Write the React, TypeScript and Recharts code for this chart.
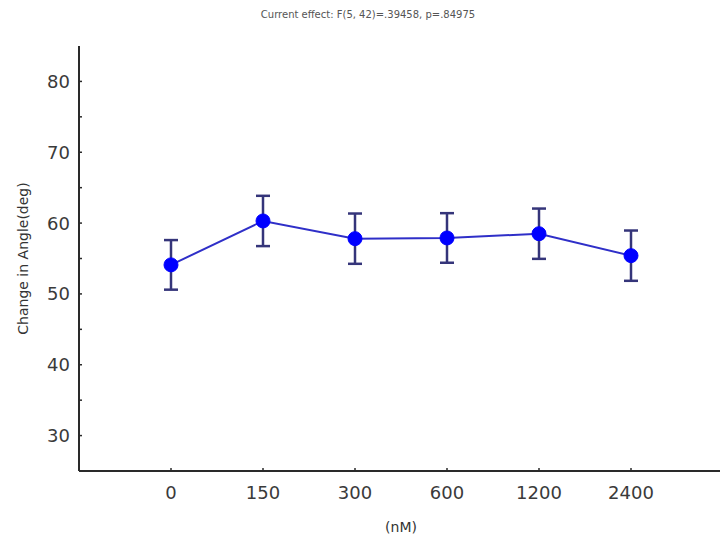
import React from "react";
import { ComposedChart, Line, ErrorBar, XAxis, YAxis } from "recharts";

// Doses (nM) and mean change in angle (deg) with standard error
const doses = ["0", "150", "300", "600", "1200", "2400"];
const meanAngle = [54.1, 60.3, 57.8, 57.9, 58.5, 55.4];
const stdErr = [3.5, 3.55, 3.55, 3.5, 3.55, 3.55];
const yTicks = [30, 35, 40, 45, 50, 55, 60, 65, 70, 75, 80];

const chartData = doses.map((dose, i) => ({
  idx: i,
  dose,
  mean: meanAngle[i],
  err: stdErr[i],
}));

const FONT = "'DejaVu Sans', sans-serif";
const AXIS = "#2a2a2a";

// Short inward tick plus label, Statistica style
function YTick(props: any) {
  const { x, y, payload } = props;
  const v = payload.value as number;
  return (
    <g>
      <line x1={x} x2={x + 3} y1={y} y2={y} stroke={AXIS} strokeWidth={1.5} />
      {v % 10 === 0 && (
        <text x={x - 9} y={y} dy="0.36em" textAnchor="end" fontSize={18} fill="#3a3a3a" fontFamily={FONT}>
          {v}
        </text>
      )}
    </g>
  );
}

function XTick(props: any) {
  const { x, y, payload } = props;
  return (
    <g>
      <line x1={x} x2={x} y1={y} y2={y - 3} stroke={AXIS} strokeWidth={1.5} />
      <text x={x} y={y + 28} textAnchor="middle" fontSize={18} fill="#3a3a3a" fontFamily={FONT}>
        {doses[payload.value as number]}
      </text>
    </g>
  );
}

export default function App() {
  return (
    <div
      style={{
        position: "absolute",
        left: 0,
        top: 0,
        width: 720,
        height: 541,
        overflow: "hidden",
        background: "#fff",
      }}
    >
      <div
        style={{
          position: "absolute",
          left: 0,
          width: 736,
          top: 9,
          textAlign: "center",
          fontFamily: FONT,
          fontSize: 10,
          color: "#555",
        }}
      >
        Current effect: F(5, 42)=.39458, p=.84975
      </div>
      <ComposedChart
        width={730}
        height={541}
        data={chartData}
        margin={{ top: 46, right: 7, bottom: 30, left: 19 }}
      >
        <XAxis
          dataKey="idx"
          type="number"
          domain={[-1, 6]}
          ticks={[0, 1, 2, 3, 4, 5]}
          height={40}
          tickLine={false}
          tickSize={0}
          tickMargin={0}
          tick={<XTick />}
          axisLine={{ stroke: AXIS, strokeWidth: 2 }}
          label={{
            value: "(nM)",
            position: "bottom",
            offset: 11,
            style: { fontSize: 14, fontFamily: FONT, fill: "#333" },
          }}
        />
        <YAxis
          type="number"
          domain={[25, 85]}
          ticks={yTicks}
          width={60}
          interval={0}
          tickLine={false}
          tickSize={0}
          tickMargin={0}
          tick={<YTick />}
          axisLine={{ stroke: AXIS, strokeWidth: 2 }}
          label={{
            value: "Change in Angle(deg)",
            angle: -90,
            position: "insideLeft",
            offset: 4,
            style: { textAnchor: "middle", fontSize: 14, fontFamily: FONT, fill: "#333" },
          }}
        />
        <Line
          dataKey="mean"
          type="linear"
          stroke="#2f2fc8"
          strokeWidth={2}
          dot={{ r: 7, fill: "#0000ff", stroke: "#0000ff", strokeWidth: 1 }}
          activeDot={false}
          isAnimationActive={false}
        >
          <ErrorBar dataKey="err" width={7} stroke="#35357a" strokeWidth={2.5} direction="y" />
        </Line>
      </ComposedChart>
    </div>
  );
}
